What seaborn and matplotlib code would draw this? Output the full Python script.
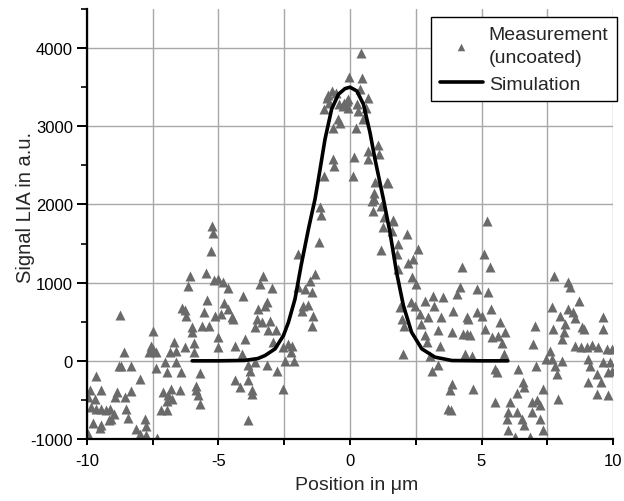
import numpy as np
import pandas as pd
import matplotlib
matplotlib.use('Agg')
import matplotlib.pyplot as plt
from matplotlib.ticker import MultipleLocator
import seaborn as sns

meas_x = [
    # x -10 .. -5
    -5.26, -5.20, -5.29, -6.09, -6.15, -5.49, -5.16, -5.45, -6.38, -6.28, -6.25, -5.54, -5.14, -8.75,
    -6.02, -6.00, -5.64, -5.37, -7.49, -7.58, -7.48, -7.65, -7.39, -6.68, -6.85, -6.60, -6.28,
    -5.92, -5.92, -8.58, -8.69, -8.77, -8.34, -7.39, -7.04, -6.97, -6.60, -6.43, -5.71, -9.64, -7.99,
    -9.89, -9.45, -9.95, -8.84, -8.94, -8.31, -8.56, -7.10, -6.81, -6.47, -6.91, -6.76, -6.94,
    -5.84, -5.84, -5.77, -5.71, -9.70, -9.83, -9.64, -9.45, -9.29, -9.13, -8.97, -9.07, -9.17,
    -8.50, -8.43, -7.19, -6.94, -9.76, -9.45, -9.51, -8.12, -7.80, -7.74, -7.99, -7.74, -9.95, -7.35,
    # x -5 .. 0
    -1.14, -1.10, -1.18, -1.96, -1.33, -1.52, -1.99, -1.71, -1.46, -1.77, -1.58, -1.81, -1.39, -1.46,
    -3.30, -3.42, -2.98, -4.06, -5.01, -4.82, -4.63, -4.78, -4.63, -4.50, -4.90, -4.45, -3.17, -3.49,
    -3.23, -3.55, -3.36, -3.61, -3.04, -3.10, -2.83, -5.01, -5.01, -3.99, -4.37, -2.92, -4.12,
    -3.87, -3.80, -3.61, -3.17, -2.79, -2.47, -2.54, -2.37, -2.19, -2.24, -2.12, -4.37, -4.18,
    -3.87, -3.71, -3.74, -2.54, -3.89,
    # x 0 .. 5
    0.93, 0.89, 1.18, 1.31, 1.65, 1.27, 1.58, 2.15, 1.18, 1.81, 1.77, 2.57, 2.41, 2.22, 1.84,
    2.34, 2.50, 4.25, 4.18, 4.06, 3.17, 3.55, 2.85, 2.32, 3.21, 2.47, 3.93, 2.98, 3.46, 2.66,
    2.70, 1.90, 1.96, 2.07, 2.85, 2.92, 3.36, 3.42, 3.89, 4.31, 4.56, 4.50, 2.03, 3.04,
    4.37, 4.63, 3.36, 3.13, 3.87, 3.80, 4.66, 3.74, 3.84, 4.44, 4.44,
    # x 5 .. 10
    5.20, 5.11, 5.32, 4.82, 5.26, 4.82, 5.01, 5.36, 5.13, 5.70, 5.89, 5.39, 5.64, 5.77, 5.87,
    5.51, 5.58, 7.03, 6.97, 7.06, 6.40, 6.59, 6.63, 5.51, 6.08, 6.02, 5.96, 6.34, 6.34, 6.53,
    6.63, 6.02, 6.27, 6.91, 7.10, 7.35, 7.22, 6.91, 7.22, 7.35, 6.84, 7.77, 8.28, 8.37, 7.67,
    8.71, 7.98, 8.30, 8.49, 8.56, 8.18, 8.15, 7.73, 8.07, 8.81, 8.91, 9.63, 9.61, 8.56, 8.79,
    9.00, 9.19, 9.44, 9.76, 9.95, 7.60, 7.44, 7.69, 8.05, 7.80, 7.86, 9.06, 9.13, 9.63, 9.89,
    9.82, 9.38, 9.54, 9.06, 7.92, 9.38, 9.82, 9.95,
    # peak
    0.42, -0.04, 0.47, -0.70, -0.54, -0.89, -0.80, -0.97, -0.42, -0.21, -0.09, -0.06, 0.26, 0.29,
    0.38, 0.70, 0.60, -0.82, -0.44, -0.63, 0.22, 0.51, 1.05, 0.70, 1.10, 0.67, -0.63, -0.59,
    0.17, -0.97, 0.13, 0.95, 1.46, 0.93, 0.85, -0.13, -0.25, -0.38, 1.39, 1.65,
]
meas_y = [
    1728, 1634, 1400, 1089, 962, 1123, 1034, 778, 672, 655, 578, 621, 578, 591,
    430, 374, 451, 451, 383, 195, 153, 119, 119, 238, 110, 132, 174,
    229, 119, 119, -60, -60, -60, -94, -9, -145, -17, -145, -154, -188, -230,
    -379, -379, -464, -400, -464, -388, -464, -400, -358, -379, -443, -486, -520,
    -316, -379, -443, -550, -486, -592, -613, -622, -635, -613, -677, -741, -762,
    -613, -728, -635, -635, -792, -826, -860, -869, -741, -835, -933, -954, -933, -990,
    1963, 1865, 1524, 1367, 1111, 1026, 941, 920, 877, 707, 715, 643, 579, 451,
    1081, 983, 928, 834, 1047, 1005, 928, 741, 664, 558, 600, 530, 749, 664,
    698, 537, 494, 430, 515, 388, 388, 302, 175, 273, 196, 247, 89,
    -47, -136, -17, -47, -124, 4, 175, 217, 196, 111, 4, -251, -336,
    -251, -379, -421, -357, -762,
    2069, 1920, 1975, 1835, 1805, 1707, 1665, 1622, 1422, 1494, 1367, 1430, 1303, 1252, 1175,
    1069, 983, 1196, 941, 856, 835, 813, 771, 758, 707, 698, 643, 558, 558, 600,
    473, 685, 536, 443, 324, 239, 388, 196, 366, 345, 324, 536, 89, 68,
    89, 68, -51, -124, -294, -379, -357, -621, -634, 558, 345,
    1792, 1366, 1196, 919, 876, 621, 579, 664, 408, 493, 366, 302, 323, 230, 89,
    -102, -145, 451, 217, -60, -102, -273, -337, -528, -528, -656, -741, -409, -656, -741,
    -826, -890, -975, -528, -507, -358, -571, -656, -741, -890, -975, 1081, 1004, 940, 685,
    770, 570, 664, 621, 544, 472, 366, 408, 281, 430, 408, 557, 408, 195, 174,
    174, 204, 174, 153, 153, 131, 25, 25, 4, -60, -167, 25, -60, -17, -17,
    -145, -167, -273, -273, -486, -422, -443, -124,
    3942, 3635, 3622, 3452, 3422, 3367, 3303, 3218, 3282, 3303, 3354, 3239, 3282, 3197,
    3473, 3367, 3239, 3397, 3090, 2984, 2984, 3090, 2758, 2686, 2643, 2588, 2580, 2486,
    2613, 2367, 2358, 2282, 2273, 2145, 2047, 3324, 3260, 3048, 2282, 1792,
]

# ===== simulation curve =====
sim_x = [-6, -5, -4, -3.5, -3.23, -2.85, -2.53, -2.34, -2.09, -1.86, -1.58, -1.33, -1.20, -0.95,
         -0.70, -0.44, -0.19, 0, 0.26, 0.51, 0.76, 0.95, 1.27, 1.52, 1.77, 2.03, 2.34, 2.73,
         3.23, 3.87, 5, 6]
sim_y = [0, 0, 5, 30, 68, 153, 324, 494, 792, 1218, 1686, 2069, 2324, 2835,
         3218, 3410, 3482, 3500, 3452, 3282, 2920, 2580, 2069, 1643, 1132, 707, 366, 153,
         47, 4, 0, 0]

meas = pd.DataFrame({'x': meas_x, 'y': meas_y})
sim = pd.DataFrame({'x': sim_x, 'y': sim_y})

sns.set_style('white')
plt.rcParams['font.family'] = ['Liberation Sans', 'DejaVu Sans']
plt.rcParams['axes.unicode_minus'] = False

fig = plt.figure(figsize=(6.24, 5.02), dpi=100)
ax = fig.add_axes([0.1394, 0.1235, 0.8430, 0.8565])

sns.scatterplot(x='x', y='y', data=meas, marker='^', s=52, color='#6a6a6a',
                linewidth=0, ax=ax, label='Measurement\n(uncoated)', zorder=2)
sns.lineplot(x='x', y='y', data=sim, sort=False, estimator=None, color='black',
             linewidth=2.6, ax=ax, label='Simulation', zorder=3)

ax.set_xlim(-10, 10)
ax.set_ylim(-1000, 4500)
ax.xaxis.set_major_locator(MultipleLocator(5))
ax.xaxis.set_minor_locator(MultipleLocator(2.5))
ax.yaxis.set_major_locator(MultipleLocator(1000))
ax.yaxis.set_minor_locator(MultipleLocator(500))
ax.grid(which='both', axis='x', color='#a8a8a8', linewidth=1)
ax.grid(which='major', axis='y', color='#a8a8a8', linewidth=1)
ax.set_axisbelow(True)

for s in ['top', 'right']:
    ax.spines[s].set_visible(False)
for s in ['left', 'bottom']:
    ax.spines[s].set_color('black')
    ax.spines[s].set_linewidth(1.6)

ax.tick_params(axis='x', which='both', direction='out', length=4, width=1.4,
               labelsize=12, pad=6, bottom=True, colors='black')
ax.tick_params(axis='y', which='major', direction='out', length=7, width=1.4,
               labelsize=12, pad=3, left=True, colors='black')
ax.tick_params(axis='y', which='minor', direction='out', length=4, width=1.4, left=True)

ax.set_xlabel('Position in \u03bcm', fontsize=14)
ax.set_ylabel('Signal LIA in a.u.', fontsize=14.5)
ax.xaxis.set_label_coords(0.513, -0.086)
ax.yaxis.set_label_coords(-0.098, 0.54)

leg = ax.legend(loc='upper right', bbox_to_anchor=(0.989, 0.964),
                bbox_transform=fig.transFigure, fontsize=14, frameon=True,
                fancybox=False, edgecolor='black', borderaxespad=0,
                handlelength=2.2, handletextpad=0.3, borderpad=0.45,
                labelspacing=0.45, markerscale=0.75)
for t in leg.get_texts():
    t.set_linespacing(1.5)
leg.get_frame().set_linewidth(1.0)
leg.get_frame().set_alpha(1)

fig.savefig('out.png', dpi=100)
